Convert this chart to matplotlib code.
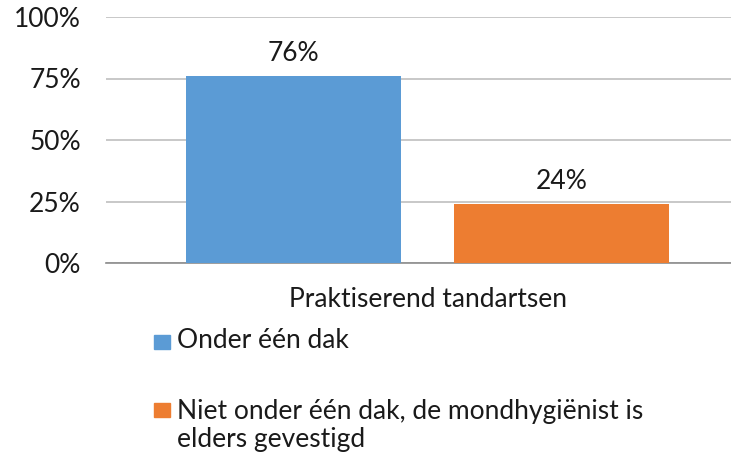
import matplotlib.pyplot as plt
from matplotlib.patches import Rectangle
import numpy as np

W, H = 731, 458
DPI = 100

categories = ["Praktiserend tandartsen"]
series_names = ["Onder één dak",
                "Niet onder één dak, de mondhygiënist is\nelders gevestigd"]
series_values = [76, 24]
series_colors = ["#5B9BD5", "#ED7D31"]
y_ticks = [0, 25, 50, 75, 100]

plt.rcParams['font.family'] = ['Lato', 'DejaVu Sans']
plt.rcParams['font.size'] = 19
TXT = "#1a1a1a"


def px(x, y):
    # pixel coords (top-left origin) -> figure fraction
    return x / W, 1 - y / H


fig = plt.figure(figsize=(W / DPI, H / DPI), dpi=DPI)
left, bottom = px(106, 263)
right, top = px(749, 17)
ax = fig.add_axes([left, bottom, right - left, top - bottom])

bar_w = 0.334
offsets = [-0.2084, 0.2084]
x = np.arange(len(categories))
for name, val, col, off in zip(series_names, series_values,
                               series_colors, offsets):
    bars = ax.bar(x + off, [val], width=bar_w, color=col, zorder=3)
    ax.bar_label(bars, labels=["%d%%" % val], padding=7, fontsize=19,
                 color=TXT)

ax.set_xlim(-0.5, 0.5)
ax.set_ylim(0, 100)
ax.set_yticks(y_ticks)
ax.set_yticklabels(["%d%%" % t for t in y_ticks], color=TXT)
ax.set_xticks(x)
ax.set_xticklabels(categories, color=TXT)
ax.tick_params(axis='both', length=0)
ax.tick_params(axis='y', pad=18)
ax.tick_params(axis='x', pad=17)
ax.grid(axis='y', color="#BFBFBF", linewidth=1.2, zorder=0)
for s in ["top", "right", "left"]:
    ax.spines[s].set_visible(False)
ax.spines["bottom"].set_color("#8C8C8C")
ax.spines["bottom"].set_linewidth(1.2)

# legend below the axes
legend_rows = [(335, 177, 340), (403, 177, 425)]
for (sq_y, tx, ty), name, col in zip(legend_rows, series_names,
                                     series_colors):
    x0, y0 = px(154, sq_y + 14)
    fig.add_artist(Rectangle((x0, y0), 16 / W, 14 / H, color=col,
                             transform=fig.transFigure))
    tx_f, ty_f = px(tx, ty)
    fig.text(tx_f, ty_f, name, ha='left', va='center', color=TXT,
             fontsize=19, linespacing=1.15)

fig.savefig("out.png", dpi=DPI)
